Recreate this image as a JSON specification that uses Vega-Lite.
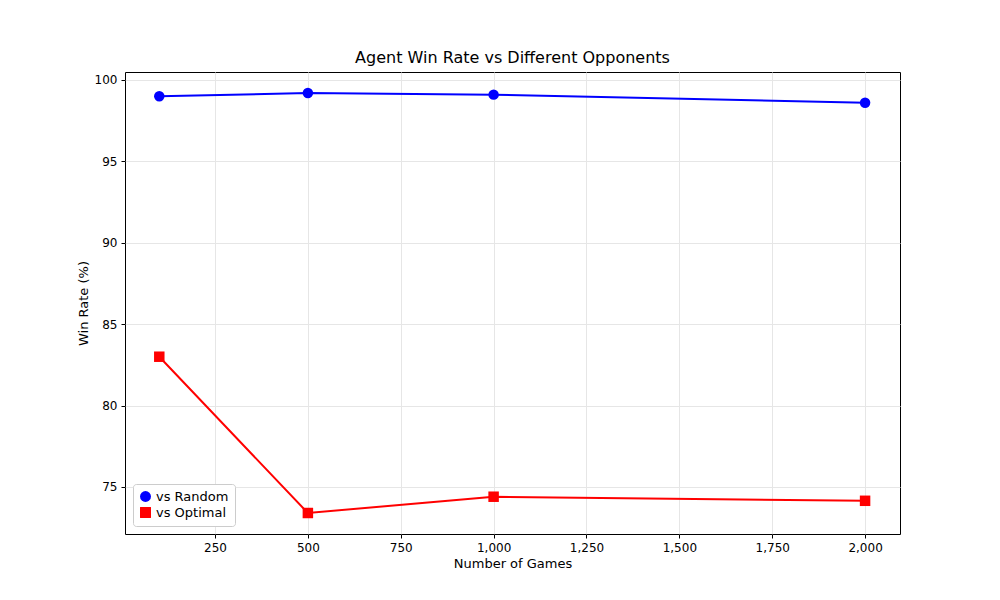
{
  "$schema": "https://vega.github.io/schema/vega-lite/v6.json",
  "autosize": "none",
  "width": 775,
  "height": 462,
  "padding": {"left": 125, "top": 72, "right": 100, "bottom": 66},
  "background": "white",
  "title": {"text": "Agent Win Rate vs Different Opponents", "fontSize": 16, "fontWeight": "normal", "font": "DejaVu Sans", "offset": 6, "color": "black"},
  "data": {
    "values": [
      {"games": 100, "rate": 99.0, "series": "vs Random"},
      {"games": 500, "rate": 99.2, "series": "vs Random"},
      {"games": 1000, "rate": 99.1, "series": "vs Random"},
      {"games": 2000, "rate": 98.6, "series": "vs Random"},
      {"games": 100, "rate": 83.0, "series": "vs Optimal"},
      {"games": 500, "rate": 73.4, "series": "vs Optimal"},
      {"games": 1000, "rate": 74.4, "series": "vs Optimal"},
      {"games": 2000, "rate": 74.15, "series": "vs Optimal"}
    ]
  },
  "encoding": {
    "x": {"field": "games", "type": "quantitative", "title": "Number of Games",
      "scale": {"domain": [7.7, 2094], "nice": false, "zero": false},
      "axis": {"values": [250, 500, 750, 1000, 1250, 1500, 1750, 2000]}},
    "y": {"field": "rate", "type": "quantitative", "title": "Win Rate (%)",
      "scale": {"domain": [72.11, 100.49], "nice": false, "zero": false},
      "axis": {"values": [75, 80, 85, 90, 95, 100]}},
    "color": {"field": "series", "type": "nominal",
      "scale": {"domain": ["vs Random", "vs Optimal"], "range": ["blue", "red"]},
      "legend": {"orient": "bottom-left", "title": null, "offset": 8, "strokeColor": "#cccccc", "fillColor": "white", "padding": 6, "cornerRadius": 3, "labelFontSize": 13, "symbolSize": 120, "symbolStrokeWidth": 0}},
    "shape": {"field": "series", "type": "nominal",
      "scale": {"domain": ["vs Random", "vs Optimal"], "range": ["circle", "square"]}}
  },
  "layer": [
    {"mark": {"type": "line", "strokeWidth": 2}},
    {"mark": {"type": "point", "filled": true, "size": 110, "opacity": 1}}
  ],
  "config": {
    "view": {"stroke": "black", "strokeWidth": 1},
    "font": "DejaVu Sans",
    "axis": {"gridColor": "#e6e6e6", "domain": false, "tickColor": "black", "labelColor": "black", "titleColor": "black", "labelFontSize": 12, "titleFontSize": 13, "titleFontWeight": "normal", "labelPadding": 4, "tickSize": 4}
  }
}
